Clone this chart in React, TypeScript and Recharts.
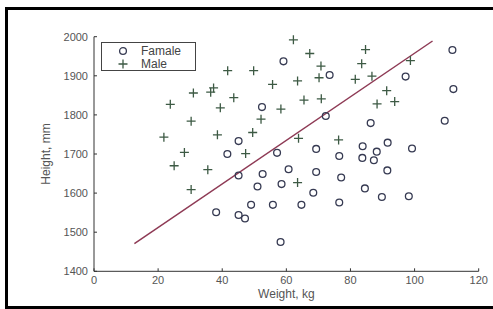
import {
  ScatterChart,
  Scatter,
  XAxis,
  YAxis,
  ReferenceLine,
  Legend,
} from "recharts";

// weight (kg) / height (mm)
const femaleWeight = [
  59.1, 73.5, 111.8, 97.2, 112.1, 52.4, 72.3, 109.4, 86.3, 45.1, 91.6, 83.8, 99.2, 69.3,
  88.2, 41.6, 57.1, 76.5, 83.7, 87.3, 60.7, 69.3, 91.5, 52.6, 45.1, 77.1, 58.5, 51.0,
  84.5, 68.4, 89.8, 98.2, 76.5, 49.0, 55.8, 64.7, 38.1, 45.1, 47.1, 58.2,
];
const femaleHeight = [
  1937, 1902, 1966, 1898, 1866, 1820, 1797, 1785, 1779, 1733, 1729, 1720, 1714, 1713,
  1706, 1700, 1703, 1695, 1690, 1684, 1661, 1654, 1658, 1649, 1645, 1640, 1623, 1617,
  1612, 1601, 1590, 1592, 1576, 1570, 1570, 1570, 1551, 1544, 1535, 1475,
];
const maleWeight = [
  62.2, 67.3, 84.7, 83.5, 70.8, 98.7, 41.7, 49.8, 70.2, 63.5, 81.5, 86.7, 55.7, 31.0,
  36.4, 37.3, 91.3, 43.6, 65.5, 70.9, 93.8, 23.8, 88.3, 39.4, 58.3, 52.1, 30.3, 49.5,
  38.5, 21.8, 63.8, 76.3, 47.3, 28.2, 25.0, 35.5, 63.5, 30.3,
];
const maleHeight = [
  1992, 1957, 1967, 1931, 1925, 1939, 1913, 1913, 1895, 1887, 1891, 1899, 1878, 1856,
  1858, 1869, 1862, 1844, 1838, 1841, 1834, 1827, 1828, 1818, 1815, 1789, 1784, 1755,
  1749, 1743, 1740, 1736, 1701, 1704, 1670, 1660, 1627, 1609,
];
// end points of the separating line
const lineWeight = [12.6, 105.6];
const lineHeight = [1471, 1989];

const xTicks = [0, 20, 40, 60, 80, 100, 120];
const yTicks = [1400, 1500, 1600, 1700, 1800, 1900, 2000];

const female = femaleWeight.map((w, i) => ({ w, h: femaleHeight[i] }));
const male = maleWeight.map((w, i) => ({ w, h: maleHeight[i] }));
const segment = lineWeight.map((w, i) => ({ x: w, y: lineHeight[i] }));

const CIRCLE = "#363a52";
const PLUS = "#3d5a44";
const FONT = "'Liberation Sans', Arial, sans-serif";

const Circle = ({ cx, cy }: { cx?: number; cy?: number }) =>
  cx == null || cy == null ? null : (
    <circle cx={cx} cy={cy} r={3.4} fill="none" stroke={CIRCLE} strokeWidth={1.3} />
  );

const Plus = ({ cx, cy }: { cx?: number; cy?: number }) =>
  cx == null || cy == null ? null : (
    <path
      d={`M${cx - 4.5},${cy}H${cx + 4.5}M${cx},${cy - 4.5}V${cy + 4.5}`}
      stroke={PLUS}
      strokeWidth={1.3}
      fill="none"
    />
  );

const LegendBox = ({ payload }: { payload?: { value: string }[] }) => (
  <div
    style={{
      width: 93,
      height: 27,
      border: "1px solid #444",
      background: "#fff",
      fontFamily: FONT,
      fontSize: 12,
      color: "#444",
      position: "relative",
    }}
  >
    {(payload ?? []).map((p, i) => (
      <div
        key={p.value}
        style={{ position: "absolute", left: 14, top: 2 + i * 12.5, height: 12, display: "flex", alignItems: "center" }}
      >
        <svg width={14} height={12} style={{ marginRight: 11 }}>
          {p.value === "Male" ? <Plus cx={7} cy={6} /> : <Circle cx={7} cy={6} />}
        </svg>
        <span style={{ lineHeight: "12px" }}>{p.value}</span>
      </div>
    ))}
  </div>
);

export default function App() {
  return (
    <div style={{ position: "fixed", left: 0, top: 0, width: 493, height: 309, background: "#fff" }}>
      <div
        style={{
          position: "absolute",
          left: 5,
          top: 7,
          width: 500,
          height: 296,
          borderLeft: "3px solid #000",
          borderTop: "3px solid #000",
          borderBottom: "3px solid #000",
        }}
      />
      <div style={{ position: "absolute", left: 0, top: 0 }}>
        <ScatterChart
          width={493}
          height={309}
          margin={{ top: 36.7, right: 14.3, left: 54, bottom: 7.7 }}
        >
          <XAxis
            type="number"
            dataKey="w"
            domain={[0, 120]}
            ticks={xTicks}
            height={30}
            stroke="#333"
            tickSize={-3}
            tickMargin={8}
            tick={{ fontSize: 11, fill: "#555", fontFamily: FONT }}
            label={{
              value: "Weight, kg",
              position: "insideBottom",
              offset: 3,
              fill: "#555",
              fontSize: 12,
              fontFamily: FONT,
            }}
          />
          <YAxis
            type="number"
            dataKey="h"
            domain={[1400, 2000]}
            ticks={yTicks}
            width={40}
            stroke="#333"
            tickSize={-3}
            tickMargin={9}
            tick={{ fontSize: 11, fill: "#555", fontFamily: FONT }}
            label={{
              value: "Height, mm",
              angle: -90,
              position: "left",
              offset: 8,
              fill: "#555",
              fontSize: 12,
              fontFamily: FONT,
              style: { textAnchor: "middle" },
            }}
          />
          <Legend
            layout="vertical"
            align="center"
            verticalAlign="middle"
            wrapperStyle={{ position: "absolute", left: 101, top: 42, width: 95, height: 29 }}
            content={<LegendBox />}
          />
          <ReferenceLine
            segment={segment}
            stroke="#8e3a55"
            strokeWidth={1.5}
            ifOverflow="visible"
          />
          <Scatter name="Famale" data={female} shape={<Circle />} isAnimationActive={false} />
          <Scatter name="Male" data={male} shape={<Plus />} isAnimationActive={false} />
        </ScatterChart>
      </div>
    </div>
  );
}
